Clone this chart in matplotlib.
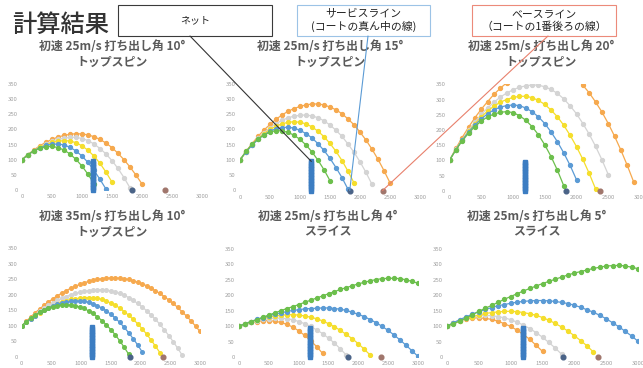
import matplotlib
matplotlib.use("Agg")
import matplotlib.pyplot as plt
from matplotlib.patches import Rectangle, ConnectionPatch

plt.rcParams['font.family'] = ['Noto Sans CJK JP', 'DejaVu Sans']

W, H = 643, 368

# ---- court reference points (cm) ----
NET_X = 1189
NET_Y = [0, 5, 10, 15, 20, 25, 30, 35, 40, 45, 50, 55, 60, 65, 70, 75, 80, 85, 90, 95]
SERVICE_X = 1829
BASE_X = 2377

x_ticks = [0, 500, 1000, 1500, 2000, 2500, 3000]
y_ticks = [0, 50, 100, 150, 200, 250, 300, 350]
x_grid = list(range(0, 3001, 100))       # sample spacing of the 25 m/s runs
x_grid_fast = list(range(0, 3001, 75))   # sample spacing of the 35 m/s run

titles = ["初速 25m/s 打ち出し角 10°", "初速 25m/s 打ち出し角 15°", "初速 25m/s 打ち出し角 20°",
          "初速 35m/s 打ち出し角 10°", "初速 25m/s 打ち出し角 4°", "初速 25m/s 打ち出し角 5°"]
subtitles = ["トップスピン", "トップスピン", "トップスピン", "トップスピン", "スライス", "スライス"]

# ---- trajectories: height (cm) along the distance samples ----
p1_green = [100, 117, 130, 138, 143, 144, 140, 132, 119, 101, 79, 52, 21]
p1_blue = [100, 116, 130, 140, 147, 151, 152, 149, 141, 129, 112, 91, 65, 35, 3]
p1_yellow = [100, 116, 130, 141, 150, 157, 161, 163, 162, 156, 146, 131, 112, 88, 59, 26]
p1_gray = [100, 116, 130, 143, 153, 161, 167, 171, 174, 174, 170, 163, 152, 137, 119, 97, 71, 41, 7]
p1_orange = [100, 117, 133, 146, 158, 167, 175, 180, 184, 186, 185, 182, 176, 167, 155, 140, 121, 100, 76, 49, 20]

p2_green = [100, 128, 151, 169, 182, 191, 196, 195, 190, 181, 167, 149, 126, 99, 68, 32]
p2_blue = [100, 126, 148, 167, 182, 194, 202, 206, 207, 204, 197, 186, 172, 153, 131, 105, 75, 42, 4]
p2_yellow = [100, 126, 149, 169, 186, 200, 210, 218, 223, 225, 223, 218, 208, 194, 176, 154, 128, 98, 63, 25]
p2_gray = [100, 126, 150, 171, 189, 205, 219, 229, 238, 243, 246, 247, 244, 238, 228, 214, 197, 177, 152, 125, 94, 59, 20]
p2_orange = [100, 128, 153, 177, 198, 216, 233, 247, 259, 268, 275, 280, 283, 283, 280, 273, 264, 251, 234, 215, 191, 165, 135, 102, 65, 25]

p3_green = [100, 134, 164, 189, 211, 229, 243, 252, 258, 260, 257, 247, 232, 211, 184, 151, 112, 67, 16]
p3_blue = [100, 135, 166, 193, 216, 236, 253, 266, 275, 280, 282, 280, 272, 260, 243, 221, 193, 161, 124, 83, 36]
p3_yellow = [100, 135, 166, 195, 220, 243, 262, 278, 291, 300, 307, 310, 311, 306, 297, 284, 265, 243, 215, 182, 145, 103, 57, 6]
p3_gray = [100, 136, 168, 199, 226, 251, 272, 291, 308, 321, 332, 340, 345, 348, 347, 342, 333, 320, 302, 279, 253, 221, 186, 146, 102, 53]
p3_orange = [100, 139, 175, 209, 240, 268, 293, 317, 337, 355, 371, 384, 394, 402, 407, 410, 410, 405, 397, 384,
             368, 347, 322, 292, 259, 221, 179, 133, 83, 29]

p4_green = [100, 113, 124, 134, 143, 151, 157, 162, 165, 167, 168, 167, 165, 161, 156, 148, 140, 129, 117, 103,
            88, 71, 52, 31, 9]
p4_blue = [100, 112, 123, 133, 143, 151, 158, 164, 169, 173, 177, 179, 180, 180, 179, 176, 171, 165, 157, 148,
           137, 125, 111, 95, 78, 59, 39, 17]
p4_yellow = [100, 112, 123, 133, 142, 151, 158, 165, 171, 177, 181, 185, 187, 189, 191, 191, 190, 188, 185, 180,
             173, 166, 157, 146, 134, 121, 107, 91, 74, 55, 35, 14]
p4_gray = [100, 113, 125, 136, 147, 156, 166, 174, 182, 188, 194, 200, 204, 208, 211, 213, 215, 216, 216, 215,
           212, 209, 204, 198, 191, 182, 172, 161, 149, 135, 121, 105, 87, 69, 49, 28, 6]
p4_orange = [100, 115, 128, 142, 154, 166, 177, 187, 197, 205, 213, 221, 227, 233, 238, 243, 246, 249, 252, 253,
             254, 254, 253, 251, 249, 245, 240, 235, 229, 221, 213, 204, 194, 183, 172, 159, 145, 131, 116, 99, 82]

p5_green = [100, 107, 114, 121, 129, 136, 143, 150, 157, 163, 170, 177, 184, 191, 198, 205, 212, 219, 225, 231,
            237, 242, 247, 251, 254, 255, 255, 254, 250, 245, 239]
p5_blue = [100, 108, 115, 122, 128, 134, 139, 143, 147, 151, 153, 156, 157, 158, 159, 159, 157, 155, 151, 145,
           138, 131, 121, 111, 99, 86, 71, 55, 38, 20, 2]
p5_yellow = [100, 108, 115, 121, 126, 130, 133, 135, 137, 137, 136, 133, 129, 124, 117, 108, 98, 86, 73, 59, 43, 25, 6]
p5_gray = [100, 107, 113, 118, 122, 124, 126, 126, 124, 121, 115, 108, 99, 88, 76, 61, 45, 26, 6]
p5_orange = [100, 107, 112, 115, 117, 118, 116, 112, 106, 97, 85, 70, 53, 34, 12]

p6_green = [100, 108, 116, 126, 137, 148, 158, 167, 177, 187, 196, 205, 214, 222, 230, 238, 245, 252, 259, 266,
            272, 277, 282, 287, 291, 295, 296, 297, 295, 291, 286]
p6_blue = [100, 111, 121, 130, 139, 147, 154, 160, 166, 170, 174, 178, 180, 182, 183, 183, 182, 180, 177, 173,
           168, 161, 153, 145, 135, 124, 111, 98, 83, 68, 51]
p6_yellow = [100, 109, 118, 125, 131, 136, 141, 144, 146, 148, 148, 147, 144, 140, 135, 128, 119, 109, 97, 84, 69, 53, 36, 16]
p6_gray = [100, 111, 119, 126, 131, 134, 135, 134, 131, 127, 121, 113, 103, 92, 79, 64, 47, 29, 9]
p6_orange = [100, 110, 118, 123, 126, 127, 125, 122, 116, 108, 99, 87, 73, 57, 38, 18]

panels = [
    [p1_orange, p1_gray, p1_yellow, p1_blue, p1_green],
    [p2_orange, p2_gray, p2_yellow, p2_blue, p2_green],
    [p3_orange, p3_gray, p3_yellow, p3_blue, p3_green],
    [p4_orange, p4_gray, p4_yellow, p4_blue, p4_green],
    [p5_orange, p5_gray, p5_yellow, p5_blue, p5_green],
    [p6_orange, p6_gray, p6_yellow, p6_blue, p6_green],
]
panel_grids = [x_grid, x_grid, x_grid, x_grid_fast, x_grid, x_grid]
colors = ['#f6a94e', '#d4d4d4', '#f5de2c', '#5b9bd5', '#6cbf4c']

# plot areas in pixels: (x at 0, x at 3000, y at 0, y at 350)
areas = [(22, 202, 190, 84), (240, 420, 190.5, 83.5), (449.5, 640, 190.7, 84.3),
         (21.7, 200, 357, 248), (239, 418, 357, 249), (447, 638, 357, 249)]
title_cx = [112, 330, 541, 112, 328, 537]
title_y = [(47, 62), (47, 62), (47, 62), (217, 232), (217, 232), (217, 232)]

fig = plt.figure(figsize=(W / 100, H / 100), dpi=100)
fig.patch.set_facecolor('white')

axes = []
for i, (x0, x1, y0, y1) in enumerate(areas):
    ax = fig.add_axes([x0 / W, 1 - y0 / H, (x1 - x0) / W, (y0 - y1) / H])
    ax.set_xlim(0, 3000)
    ax.set_ylim(0, 350)
    for s in ax.spines.values():
        s.set_visible(False)
    ax.set_xticks(x_ticks)
    ax.set_yticks(y_ticks)
    ax.tick_params(length=0, labelsize=4.3, labelcolor='#a0a0a0', pad=3)
    ax.patch.set_alpha(0)
    grid = panel_grids[i]
    ms = 2.6 if grid is x_grid_fast else 2.8
    for ys, c in zip(panels[i], colors):
        ax.plot(grid[:len(ys)], ys, '-o', color=c, lw=0.9, ms=ms, mec=c, zorder=2)
    ax.plot([NET_X] * len(NET_Y), NET_Y, 's', color='#3c7dc2', ms=3.4, clip_on=False, zorder=4)
    ax.plot([SERVICE_X], [0], 'o', color='#4a6387', ms=3.4, clip_on=False, zorder=4)
    ax.plot([BASE_X], [0], 'o', color='#a0766c', ms=3.4, clip_on=False, zorder=4)
    cx = title_cx[i]
    fig.text(cx / W, 1 - title_y[i][0] / H, titles[i], ha='center', va='center',
             fontsize=8.6, fontweight='bold', color='#5a5a5a')
    fig.text(cx / W, 1 - title_y[i][1] / H, subtitles[i], ha='center', va='center',
             fontsize=8.6, fontweight='bold', color='#5a5a5a')
    axes.append(ax)

# ---- heading and callouts ----
fig.text(12 / W, 1 - 25 / H, "計算結果", ha='left', va='center', fontsize=17.5,
         fontweight='medium', color='#333333')

boxes = [
    ((118, 5, 272, 36), '#3a3a3a', "ネット", 7.2),
    ((297, 5, 430, 36), '#9cc3e6', "サービスライン\n(コートの真ん中の線)", 7.8),
    ((472, 5, 616, 36), '#ec8a7a', "ベースライン\n（コートの1番後ろの線）", 7.8),
]
for (bx0, by0, bx1, by1), ec, label, fs in boxes:
    fig.patches.append(Rectangle((bx0 / W, 1 - by1 / H), (bx1 - bx0) / W, (by1 - by0) / H,
                                 transform=fig.transFigure, facecolor='white', edgecolor=ec, lw=0.8))
    fig.text((bx0 + bx1) / 2 / W, 1 - (by0 + by1) / 2 / H, label, ha='center', va='center',
             fontsize=fs, color='#222222', linespacing=1.25)

ax2 = axes[1]
links = [((190, 36), (NET_X, NET_Y[-1]), '#333333'),
         ((368, 36), (SERVICE_X, 0), '#5b9bd5'),
         ((548, 36), (BASE_X, 0), '#e8806c')]
for (fx, fy), target, c in links:
    con = ConnectionPatch(xyA=(fx / W, 1 - fy / H), coordsA='figure fraction',
                          xyB=target, coordsB=ax2.transData, color=c, lw=0.8, zorder=10)
    fig.add_artist(con)

fig.savefig("out.png", dpi=100, facecolor='white')
